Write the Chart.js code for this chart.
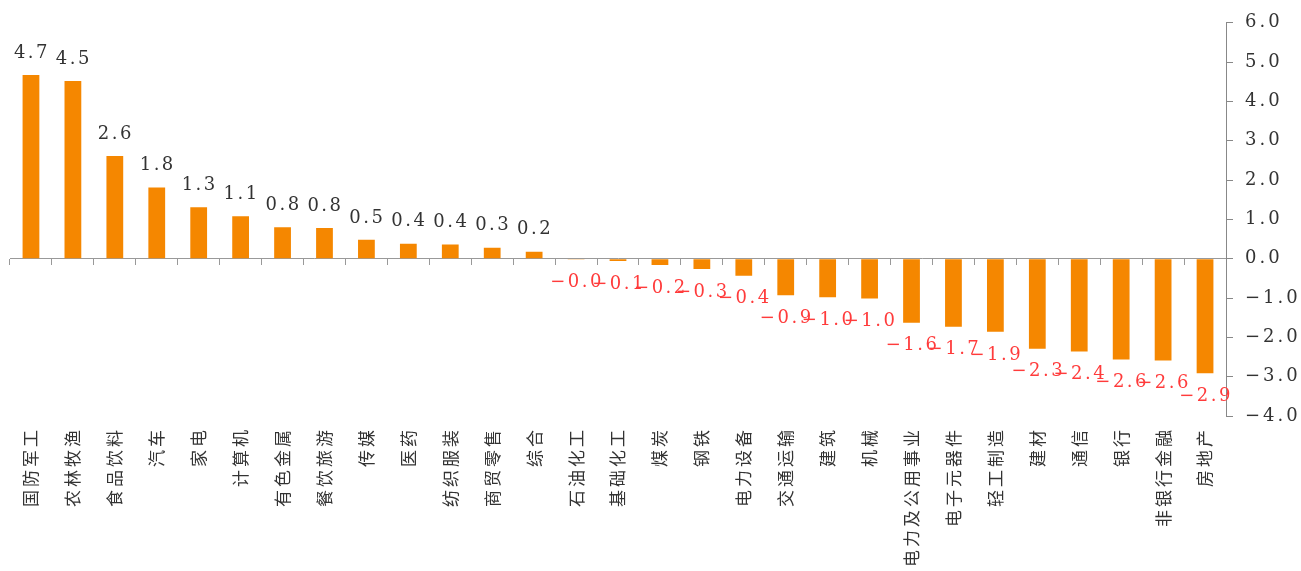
<!DOCTYPE html>
<html>
<head>
<meta charset="utf-8">
<script src="https://cdn.jsdelivr.net/npm/chart.js@4/dist/chart.umd.min.js"></script>
<style>
  body { margin: 0; background: #fff; }
</style>
</head>
<body>
<canvas id="myChart" width="1301" height="571"></canvas>
<script>
// industries, sorted by weekly change (%)
const categorias = ['国防军工', '农林牧渔', '食品饮料', '汽车', '家电', '计算机', '有色金属', '餐饮旅游',
  '传媒', '医药', '纺织服装', '商贸零售', '综合', '石油化工', '基础化工', '煤炭', '钢铁', '电力设备',
  '交通运输', '建筑', '机械', '电力及公用事业', '电子元器件', '轻工制造', '建材', '通信', '银行',
  '非银行金融', '房地产'];
const variacao = [4.67, 4.52, 2.61, 1.81, 1.31, 1.08, 0.80, 0.78, 0.48, 0.38, 0.36, 0.28, 0.18,
  -0.02, -0.06, -0.16, -0.26, -0.43, -0.93, -0.98, -1.01, -1.63, -1.73, -1.86, -2.29, -2.36, -2.56,
  -2.59, -2.91];
const yMin = -4;
const yMax = 6;

const numFont = '"DejaVu Serif", "Liberation Serif", serif';
const cjkFont = '"Noto Sans CJK SC", "Noto Sans", sans-serif';

function fmt(v) {
  return Number(v).toFixed(1).replace('-', '\u2212');
}

// wider spacing like the original's SimSun digits
const espacamento = {
  id: 'espacamento',
  beforeUpdate(chart) { chart.ctx.letterSpacing = '3px'; },
  beforeDraw(chart) { chart.ctx.letterSpacing = '3px'; }
};

// value labels above / below each bar
const rotulos = {
  id: 'rotulos',
  afterDatasetsDraw(chart) {
    const ctx = chart.ctx;
    const meta = chart.getDatasetMeta(0);
    ctx.save();
    ctx.letterSpacing = '2.5px';
    ctx.font = '18px ' + numFont;
    ctx.textAlign = 'center';
    ctx.textBaseline = 'middle';
    meta.data.forEach((bar, i) => {
      const v = variacao[i];
      const txt = fmt(v);
      if (v >= 0) {
        ctx.fillStyle = '#333';
        ctx.fillText(txt, bar.x + 1, bar.y - 22);
      } else {
        ctx.fillStyle = '#ff3b3b';
        ctx.fillText(txt, bar.x + 1, bar.y + 23);
      }
    });
    ctx.restore();
  }
};

const ctx = document.getElementById('myChart').getContext('2d');
const myChart = new Chart(ctx, {
  type: 'bar',
  data: {
    labels: categorias,
    datasets: [{
      data: variacao,
      backgroundColor: '#f58700',
      borderWidth: 0,
      barPercentage: 0.8,
      categoryPercentage: 0.5
    }]
  },
  options: {
    responsive: false,
    animation: false,
    devicePixelRatio: 1,
    layout: { padding: { left: 10, top: 18, right: 0, bottom: 0 } },
    plugins: {
      legend: { display: false },
      tooltip: { enabled: false }
    },
    scales: {
      x: {
        type: 'category',
        offset: true,
        grid: { display: false, drawTicks: false },
        border: { display: false },
        ticks: {
          autoSkip: false,
          minRotation: 90,
          maxRotation: 90,
          padding: 11,
          color: '#333',
          font: { family: cjkFont, size: 17 }
        },
        afterFit: (s) => { s.height = 155; }
      },
      x2: {
        type: 'category',
        position: { y: 0 },
        offset: true,
        grid: { offset: true, drawOnChartArea: false, drawTicks: true, tickLength: 6, color: '#999' },
        border: { display: true, color: '#999', width: 1 },
        ticks: { display: false }
      },
      y: {
        position: 'right',
        min: yMin,
        max: yMax,
        grid: { drawOnChartArea: false, drawTicks: true, tickLength: 7, color: '#888' },
        border: { display: true, color: '#888', width: 1 },
        ticks: {
          stepSize: 1,
          padding: 12,
          color: '#333',
          font: { family: numFont, size: 18 },
          callback: (value) => fmt(value)
        },
        afterFit: (s) => { s.width = 75; }
      }
    }
  },
  plugins: [espacamento, rotulos]
});
</script>
</body>
</html>
